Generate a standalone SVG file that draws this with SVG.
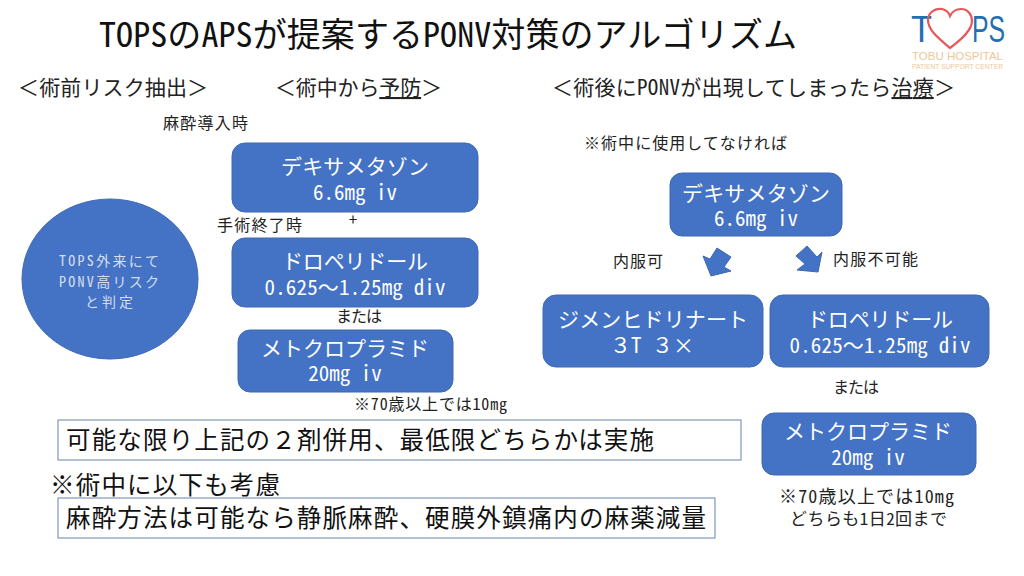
<svg xmlns="http://www.w3.org/2000/svg" width="1024" height="576" viewBox="0 0 1024 576">
<style>
text{font-family:"Noto Sans CJK JP","Noto Sans",sans-serif;fill:#222;font-feature-settings:"hwid"}
.f{font-feature-settings:normal}
.b{fill:#4472c4;stroke:#3f69b3;stroke-width:1}
.w{fill:#fff;text-anchor:middle;font-size:21px}
.h{font-size:21px}
.s{font-size:16px}
.c{font-size:14px;fill:#d5dff2;text-anchor:middle}
.n{font-size:24.5px;fill:#111}
.l{font-family:"Liberation Sans",sans-serif;font-feature-settings:normal}
.bx{fill:#fff;stroke:#7f99b8;stroke-width:1.2}
</style>
<rect width="1024" height="576" fill="#fff"/>
<text x="99" y="47" font-size="34" textLength="698" style="fill:#111">TOPSのAPSが提案するPONV対策のアルゴリズム</text>
<g id="logo">
<text class="l" x="911" y="42" font-size="37" textLength="21" lengthAdjust="spacingAndGlyphs" style="fill:#1f6fb2">T</text>
<text class="l" x="972" y="42" font-size="37" textLength="33" lengthAdjust="spacingAndGlyphs" style="fill:#1f6fb2">PS</text>
<path d="M950 48C938 38 928 30 928 20C928 12 936 8 942 9C946 10 949 13 950 16C952 12 956 9 961 9C968 9 972 15 972 21C972 30 962 39 950 48Z" fill="none" stroke="#e8575a" stroke-width="2.2"/>
<text class="l" x="912" y="60" font-size="11" textLength="91" lengthAdjust="spacingAndGlyphs" style="fill:#edc898">TOBU HOSPITAL</text>
<text class="l" x="912" y="68.500" font-size="7.500" textLength="91" lengthAdjust="spacingAndGlyphs" style="fill:#edc898">PATIENT SUPPORT CENTER</text>
</g>
<text class="h" x="18" y="95" textLength="190"><tspan class="f">＜</tspan>術前リスク抽出<tspan class="f">＞</tspan></text>
<text class="h" x="275" y="95" textLength="167"><tspan class="f">＜</tspan>術中から<tspan text-decoration="underline">予防</tspan><tspan class="f">＞</tspan></text>
<text class="h" x="552" y="95" textLength="403"><tspan class="f">＜</tspan>術後にPONVが出現してしまったら<tspan text-decoration="underline">治療</tspan><tspan class="f">＞</tspan></text>
<text class="s" x="163" y="129" textLength="85">麻酔導入時</text>
<text class="s" x="217" y="231" textLength="85">手術終了時</text>
<text class="s" x="349" y="225">+</text>
<text class="s" x="336" y="322" textLength="46">または</text>
<text class="s" x="354" y="410" textLength="153">※70歳以上では10mg</text>
<text class="s" x="584" y="149" textLength="203">※術中に使用してなければ</text>
<text class="s" x="613" y="267" textLength="50">内服可</text>
<text class="s" x="833" y="265" textLength="85">内服不可能</text>
<text class="s" x="833" y="393" textLength="46">または</text>
<text x="779" y="503" font-size="18" textLength="175">※70歳以上では10mg</text>
<text x="790" y="525" font-size="17" textLength="157">どちらも1日2回まで</text>
<g id="risk"><ellipse class="b" cx="110" cy="279" rx="88" ry="80"/>
<text class="c" x="109" y="266" textLength="100">TOPS外来にて</text>
<text class="c" x="109" y="287" textLength="100">PONV高リスク</text>
<text class="c" x="109" y="307" textLength="48">と判定</text></g>
<g id="dex1"><rect class="b" x="232" y="143" width="246" height="69" rx="13"/>
<text class="w" x="355" y="174" textLength="148">デキサメタゾン</text>
<text class="w" x="355" y="200">6.6mg iv</text></g>
<g id="dro1"><rect class="b" x="232" y="238" width="246" height="69" rx="13"/>
<text class="w" x="355" y="269" textLength="146">ドロペリドール</text>
<text class="w" x="355" y="295" textLength="181">0.625<tspan class="f">～</tspan>1.25mg div</text></g>
<g id="met1"><rect class="b" x="238" y="330" width="215" height="62" rx="12"/>
<text class="w" x="345" y="356" textLength="168">メトクロプラミド</text>
<text class="w" x="345" y="381">20mg iv</text></g>
<g id="dex2"><rect class="b" x="670" y="173" width="172" height="63" rx="12"/>
<text class="w" x="756" y="201" textLength="148">デキサメタゾン</text>
<text class="w" x="756" y="226">6.6mg iv</text></g>
<g id="jimen"><rect class="b" x="543" y="295" width="220" height="72" rx="13"/>
<text class="w" x="653" y="327" textLength="190">ジメンヒドリナート</text>
<text class="w" x="652" y="353"><tspan class="f">３</tspan>T　<tspan class="f">３</tspan>×</text></g>
<g id="dro2"><rect class="b" x="770" y="295" width="219" height="72" rx="13"/>
<text class="w" x="880" y="327" textLength="146">ドロペリドール</text>
<text class="w" x="880" y="353" textLength="181">0.625<tspan class="f">～</tspan>1.25mg div</text></g>
<g id="met2"><rect class="b" x="762" y="413" width="214" height="62" rx="12"/>
<text class="w" x="868" y="439" textLength="168">メトクロプラミド</text>
<text class="w" x="868" y="465">20mg iv</text></g>
<g id="connectors">
<polygon class="b" points="703,256 710,259 717,248 731,257 724,267 731,271 711,276"/>
<polygon class="b" points="796,256 807,246 817,257 822,252 818,272 797,270 805,264"/>
</g>
<g id="note1"><rect class="bx" x="58" y="420" width="683" height="40"/>
<text class="n" x="66" y="449" textLength="588">可能な限り上記の<tspan class="f">２</tspan>剤併用、最低限どちらかは実施</text></g>
<text class="n" x="50" y="494" textLength="230">※術中に以下も考慮</text>
<g id="note2"><rect class="bx" x="58" y="498" width="657" height="40"/>
<text class="n" x="66" y="527" textLength="640">麻酔方法は可能なら静脈麻酔、硬膜外鎮痛内の麻薬減量</text></g>
</svg>
